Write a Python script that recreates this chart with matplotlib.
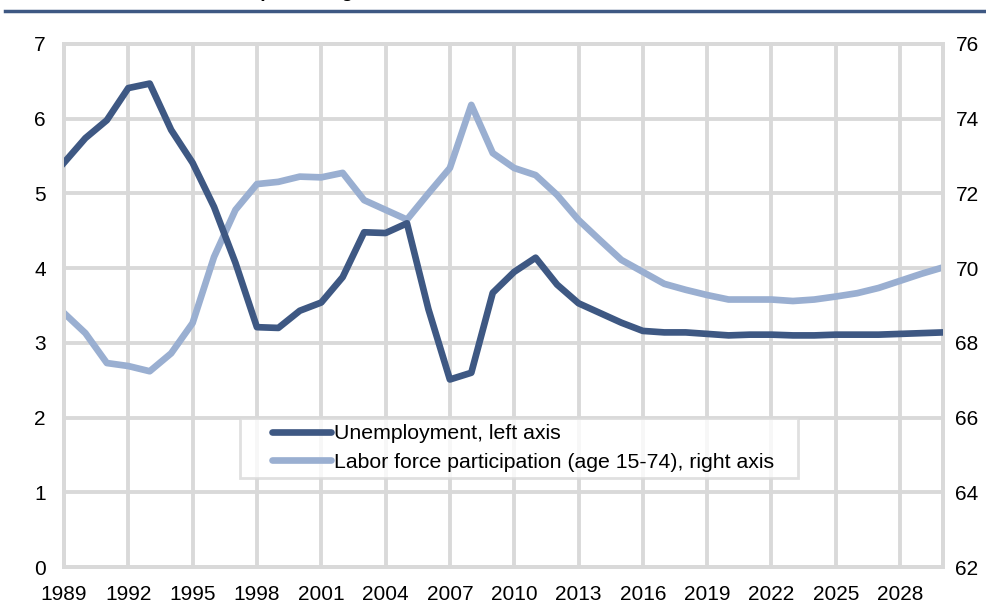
import numpy as np
import matplotlib
matplotlib.use("Agg")
import matplotlib.pyplot as plt
from matplotlib.lines import Line2D
from matplotlib.legend_handler import HandlerLine2D

plt.rcParams['font.family'] = ['Liberation Sans', 'DejaVu Sans']

# Data
years = list(range(1989, 2031))
unemployment = [5.41, 5.74, 5.98, 6.41, 6.47, 5.85, 5.41, 4.82, 4.07, 3.21,
                3.20, 3.43, 3.54, 3.88, 4.48, 4.47, 4.60, 3.45, 2.51, 2.60,
                3.67, 3.95, 4.14, 3.78, 3.53, 3.40, 3.27, 3.16, 3.14, 3.14,
                3.12, 3.10, 3.11, 3.11, 3.10, 3.10, 3.11, 3.11, 3.11, 3.12,
                3.13, 3.14]
participation = [68.80, 68.26, 67.46, 67.38, 67.24, 67.72, 68.53, 70.30, 71.56, 72.25,
                 72.31, 72.45, 72.43, 72.55, 71.82, 71.56, 71.30, 72.00, 72.68, 74.37,
                 73.08, 72.68, 72.49, 71.96, 71.29, 70.75, 70.22, 69.90, 69.58, 69.42,
                 69.28, 69.16, 69.16, 69.16, 69.12, 69.16, 69.24, 69.33, 69.47, 69.66,
                 69.85, 70.02]
xticks = list(range(1989, 2030, 3))

dark = '#3E5883'
light = '#9AAFD1'
grid = '#D9D9D9'

fig = plt.figure(figsize=(9.87, 6.16), dpi=100)
ax = fig.add_axes([0.0648, 0.0795, 0.8906, 0.8491])
ax2 = ax.twinx()

ax.plot(years, unemployment, color=dark, lw=4.8, solid_joinstyle='round', zorder=4)
ax2.plot(years, participation, color=light, lw=4.8, solid_joinstyle='round', zorder=3)
# draw unemployment above participation
ax.set_zorder(ax2.get_zorder() + 1)
ax.patch.set_visible(False)

ax.set_xlim(1989, 2030)
ax.set_ylim(0, 7)
ax2.set_ylim(62, 76)
ax.set_xticks(xticks)
ax.set_yticks(range(0, 8))
ax2.set_yticks(range(62, 77, 2))

# grid drawn on the back axes
for y in range(62, 77, 2):
    ax2.axhline(y, color=grid, lw=2.8, zorder=0)
for x in xticks:
    ax2.axvline(x, color=grid, lw=2.8, zorder=0)

for a in (ax, ax2):
    for s in a.spines.values():
        s.set_color(grid)
        s.set_linewidth(2.8)
    a.tick_params(length=0, labelsize=15, colors='black')
ax.tick_params(axis='y', pad=13)
ax2.tick_params(axis='y', pad=9)
ax.tick_params(axis='x', pad=13)

handles = [Line2D([], [], color=dark, lw=4.8, solid_capstyle='round'),
           Line2D([], [], color=light, lw=4.8, solid_capstyle='round')]
leg = ax.legend(handles, ['Unemployment, left axis',
                          'Labor force participation (age 15-74), right axis   '],
                loc='lower left', bbox_to_anchor=(0.2, 0.17), fontsize=15.3,
                frameon=True, fancybox=False, handlelength=4.0, handletextpad=0.12,
                borderpad=0.3, labelspacing=0.45, borderaxespad=0,
                handler_map={Line2D: HandlerLine2D(xpad=1.2)})
leg.get_frame().set_edgecolor(grid)
leg.get_frame().set_linewidth(2.0)
leg.set_zorder(10)

# header rule and clipped heading
fig.add_artist(Line2D([0.005, 1.0], [0.982, 0.982], color=dark, lw=2.5))
fig.text(0.14, 1.012, 'Per cent and percentages', fontsize=14, fontweight='bold',
         va='center', ha='left')

fig.savefig('out.png', dpi=100)
